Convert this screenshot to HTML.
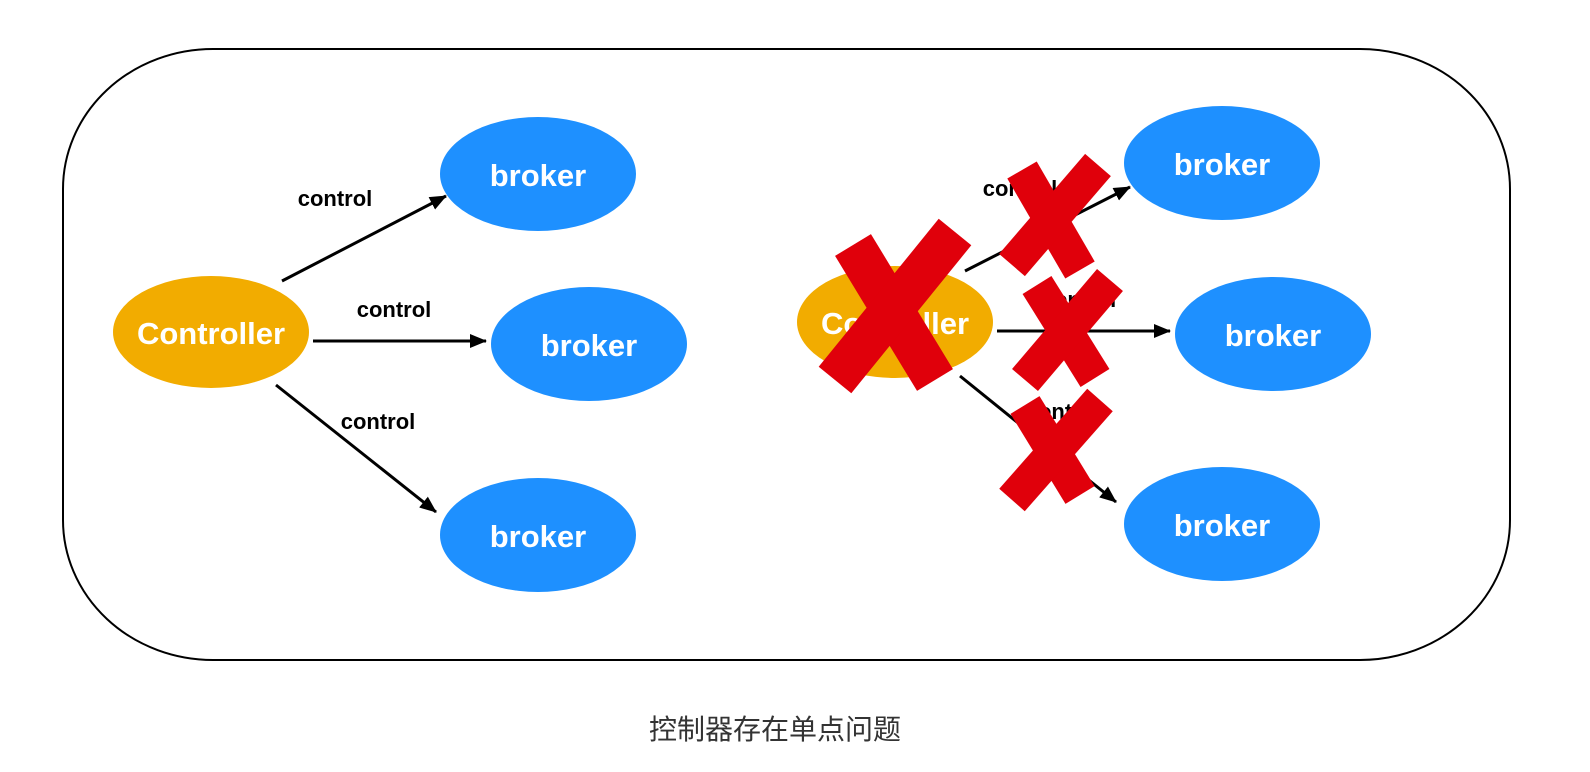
<!DOCTYPE html>
<html><head><meta charset="utf-8"><style>
html,body{margin:0;padding:0;background:#fff;}
svg{display:block}
</style></head><body>
<svg width="1590" height="772" viewBox="0 0 1590 772" xmlns="http://www.w3.org/2000/svg">
<defs>
<marker id="a" markerWidth="18" markerHeight="14" refX="16" refY="7" orient="auto" markerUnits="userSpaceOnUse">
<path d="M0,0 L17,7 L0,14 Z" fill="#000"/>
</marker>
</defs>
<rect x="63" y="49" width="1447" height="611" rx="150" ry="140" fill="none" stroke="#000" stroke-width="2"/>
<g font-family="Liberation Sans, sans-serif" font-weight="bold">
<ellipse cx="211" cy="332" rx="98" ry="56" fill="#f2ac00"/>
<text x="211" y="344" font-size="31" fill="#fff" text-anchor="middle">Controller</text>
<ellipse cx="538" cy="174" rx="98" ry="57" fill="#1e90ff"/>
<text x="538" y="186" font-size="31" fill="#fff" text-anchor="middle">broker</text>
<ellipse cx="589" cy="344" rx="98" ry="57" fill="#1e90ff"/>
<text x="589" y="356" font-size="31" fill="#fff" text-anchor="middle">broker</text>
<ellipse cx="538" cy="535" rx="98" ry="57" fill="#1e90ff"/>
<text x="538" y="547" font-size="31" fill="#fff" text-anchor="middle">broker</text>
<g stroke="#000" stroke-width="3" marker-end="url(#a)">
<line x1="282" y1="281" x2="446" y2="196"/>
<line x1="313" y1="341" x2="486" y2="341"/>
<line x1="276" y1="385" x2="436" y2="512"/>
<line x1="965" y1="271" x2="1130" y2="187"/>
<line x1="997" y1="331" x2="1170" y2="331"/>
<line x1="960" y1="376" x2="1116" y2="502"/>
</g>
<g font-size="22" fill="#000" text-anchor="middle">
<text x="335" y="206">control</text>
<text x="394" y="317">control</text>
<text x="378" y="429">control</text>
<text x="1020" y="196">control</text>
<text x="1079" y="307">control</text>
<text x="1063" y="419">control</text>
</g>
<ellipse cx="895" cy="322" rx="98" ry="56" fill="#f2ac00"/>
<text x="895" y="334" font-size="31" fill="#fff" text-anchor="middle">Controller</text>
<ellipse cx="1222" cy="163" rx="98" ry="57" fill="#1e90ff"/>
<text x="1222" y="175" font-size="31" fill="#fff" text-anchor="middle">broker</text>
<ellipse cx="1273" cy="334" rx="98" ry="57" fill="#1e90ff"/>
<text x="1273" y="346" font-size="31" fill="#fff" text-anchor="middle">broker</text>
<ellipse cx="1222" cy="524" rx="98" ry="57" fill="#1e90ff"/>
<text x="1222" y="536" font-size="31" fill="#fff" text-anchor="middle">broker</text>
</g>
<g stroke="#e0000b" stroke-linecap="butt">
<line x1="853" y1="245" x2="935" y2="380" stroke-width="42"/>
<line x1="955" y1="232" x2="835" y2="380" stroke-width="42"/>
<line x1="1022" y1="170" x2="1080" y2="270" stroke-width="34"/>
<line x1="1098" y1="165" x2="1012" y2="265" stroke-width="34"/>
<line x1="1037" y1="285" x2="1095" y2="378" stroke-width="34"/>
<line x1="1110" y1="280" x2="1025" y2="380" stroke-width="34"/>
<line x1="1025" y1="405" x2="1080" y2="495" stroke-width="34"/>
<line x1="1100" y1="400" x2="1012" y2="500" stroke-width="34"/>
</g>
<text x="775" y="739" font-size="28" fill="#333" text-anchor="middle" font-family="Liberation Sans, Noto Sans CJK SC, sans-serif">控制器存在单点问题</text>
</svg>
</body></html>
